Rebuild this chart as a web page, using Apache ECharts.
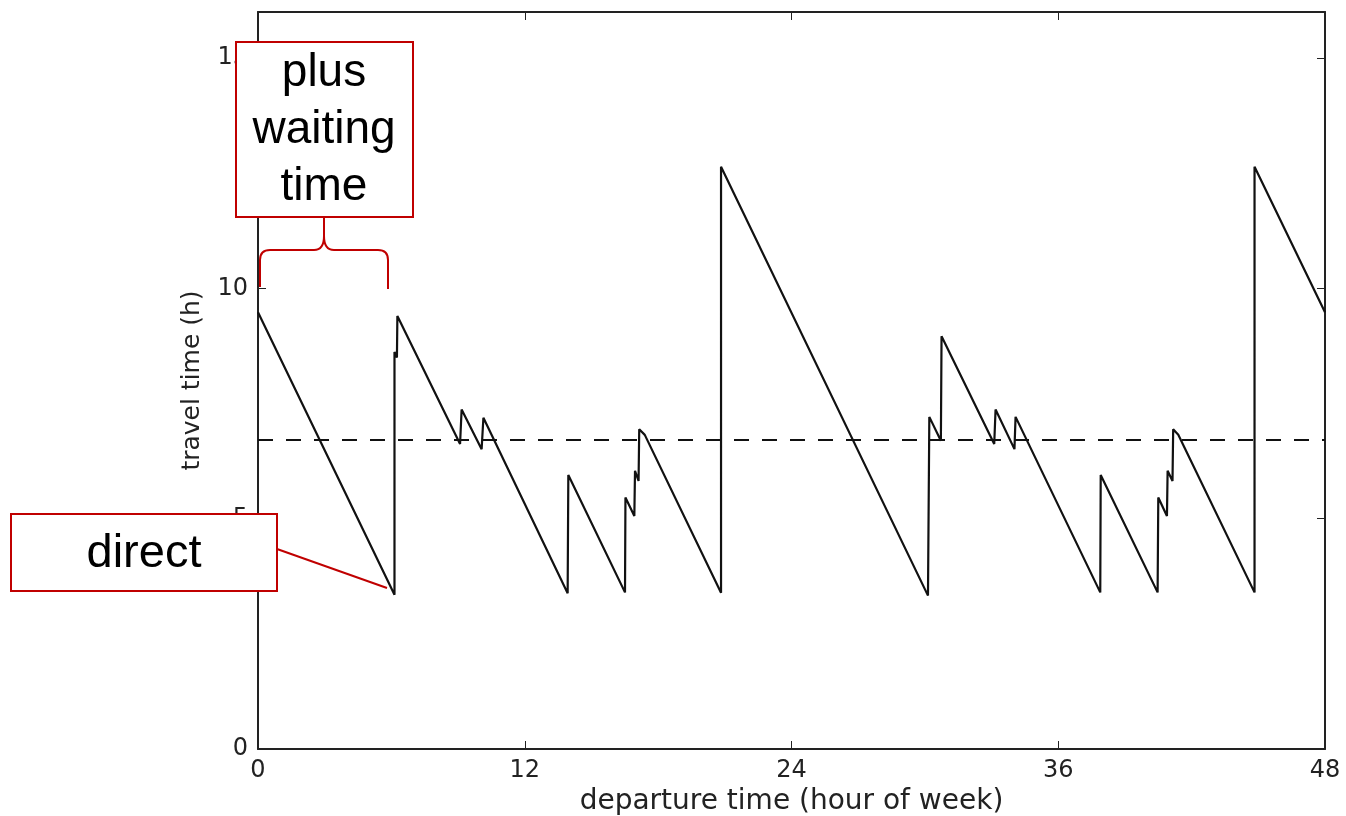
<!DOCTYPE html>
<html lang="en">
<head>
    <meta charset="UTF-8">
    <title>travel time</title>
    <style>
        body { margin: 0; background: #fff; }
        #main { width: 1346px; height: 816px; }
    </style>
</head>
<body>

<div id="main"></div>

<script type="text/javascript" src="https://cdn.jsdelivr.net/npm/echarts@6/dist/echarts.min.js"></script>
<script type="text/javascript">

    // departure time (hour of week) and travel time (h)
    var depTimes = [0, 6.14, 6.14, 6.25, 6.27, 9.09, 9.16, 10.06, 10.14, 13.93, 13.96, 16.51, 16.53, 16.93, 16.96, 17.12, 17.15, 17.4, 20.83,
        20.83, 30.14, 30.2, 30.72, 30.75, 33.12, 33.18, 34.03, 34.08, 37.89, 37.91, 40.47, 40.5, 40.89, 40.92, 41.14, 41.17, 41.4, 44.83,
        44.83, 48];
    var travelTimes = [9.48, 3.35, 8.62, 8.5, 9.4, 6.62, 7.37, 6.51, 7.19, 3.38, 5.95, 3.4, 5.46, 5.06, 6.04, 5.82, 6.94, 6.82, 3.39,
        12.64, 3.33, 7.21, 6.69, 8.96, 6.62, 7.37, 6.51, 7.21, 3.4, 5.95, 3.4, 5.46, 5.06, 6.04, 5.82, 6.94, 6.82, 3.4,
        12.64, 9.48];
    var meanTravelTime = 6.71;
    var xTicks = [0, 12, 24, 36, 48];
    var yTicks = [0, 5, 10, 15];

    var lineColor = '#111';
    var red = '#c00000';
    var tickFont = { fontFamily: 'DejaVu Sans', fontSize: 24, color: '#222' };

    var points = [];
    for (var i = 0; i < depTimes.length; i++) {
        points.push([depTimes[i], travelTimes[i]]);
    }

    var frameLine = { show: true, onZero: false, lineStyle: { color: '#222', width: 2 } };
    var innerTick = { show: true, inside: true, length: 8, lineStyle: { color: '#222', width: 1 } };

    // red annotation pieces
    var redStroke = { stroke: red, lineWidth: 2, fill: null };
    function seg(x1, y1, x2, y2) {
        return { type: 'line', z: 100, shape: { x1: x1, y1: y1, x2: x2, y2: y2 }, style: redStroke };
    }
    function curve(x1, y1, cx, cy, x2, y2) {
        return { type: 'bezierCurve', z: 100, shape: { x1: x1, y1: y1, cpx1: cx, cpy1: cy, x2: x2, y2: y2 }, style: redStroke };
    }

    var chart = echarts.init(document.getElementById('main'));

    chart.setOption({
        animation: false,
        grid: { left: 258, right: 21, top: 12, bottom: 67, outerBoundsMode: 'none', containLabel: false },
        xAxis: [{
            type: 'value',
            min: xTicks[0],
            max: xTicks[xTicks.length - 1],
            interval: 12,
            name: 'departure time (hour of week)',
            nameLocation: 'middle',
            nameGap: 38,
            nameTextStyle: { fontFamily: 'DejaVu Sans', fontSize: 28, color: '#222' },
            axisLine: frameLine,
            axisTick: innerTick,
            axisLabel: Object.assign({ margin: 10 }, tickFont),
            splitLine: { show: false }
        }, {
            type: 'value',
            position: 'top',
            min: xTicks[0],
            max: xTicks[xTicks.length - 1],
            interval: 12,
            axisLine: frameLine,
            axisTick: innerTick,
            axisLabel: { show: false },
            splitLine: { show: false }
        }],
        yAxis: [{
            type: 'value',
            min: yTicks[0],
            max: 16,
            interval: 5,
            name: 'travel time (h)',
            nameLocation: 'middle',
            nameGap: 53,
            nameTextStyle: { fontFamily: 'DejaVu Sans', fontSize: 25, color: '#222' },
            axisLine: frameLine,
            axisTick: innerTick,
            axisLabel: Object.assign({ margin: 10, showMaxLabel: false }, tickFont),
            splitLine: { show: false }
        }, {
            type: 'value',
            position: 'right',
            min: yTicks[0],
            max: 16,
            interval: 5,
            axisLine: frameLine,
            axisTick: innerTick,
            axisLabel: { show: false },
            splitLine: { show: false }
        }],
        series: [{
            name: 'travel time',
            type: 'line',
            data: points,
            showSymbol: false,
            lineStyle: { color: lineColor, width: 2.2 },
            markLine: {
                silent: true,
                symbol: 'none',
                label: { show: false },
                lineStyle: { color: lineColor, width: 2, type: [15, 13] },
                data: [{ yAxis: meanTravelTime }]
            }
        }],
        graphic: [
            // brace over the waiting part
            seg(260, 287, 260, 260),
            curve(260, 260, 260, 250, 270, 250),
            seg(270, 250, 314, 250),
            curve(314, 250, 324, 250, 324, 236),
            seg(324, 236, 324, 217),
            curve(324, 236, 324, 250, 334, 250),
            seg(334, 250, 378, 250),
            curve(378, 250, 388, 250, 388, 260),
            seg(388, 260, 388, 289),
            {
                type: 'rect', z: 100,
                shape: { x: 236, y: 42, width: 177, height: 175 },
                style: { fill: '#fff', stroke: red, lineWidth: 2 }
            },
            {
                type: 'text', z: 101, x: 324, y: 130,
                style: {
                    text: 'plus\nwaiting\ntime', fill: '#000', align: 'center', verticalAlign: 'middle',
                    font: '46px "Liberation Sans", Arial, sans-serif', lineHeight: 57
                }
            },
            // leader to the direct connection
            seg(277, 549, 387, 588),
            {
                type: 'rect', z: 100,
                shape: { x: 11, y: 514, width: 266, height: 77 },
                style: { fill: '#fff', stroke: red, lineWidth: 2 }
            },
            {
                type: 'text', z: 101, x: 144, y: 554,
                style: {
                    text: 'direct', fill: '#000', align: 'center', verticalAlign: 'middle',
                    font: '47px "Liberation Sans", Arial, sans-serif'
                }
            }
        ]
    });
</script>

</body>
</html>
